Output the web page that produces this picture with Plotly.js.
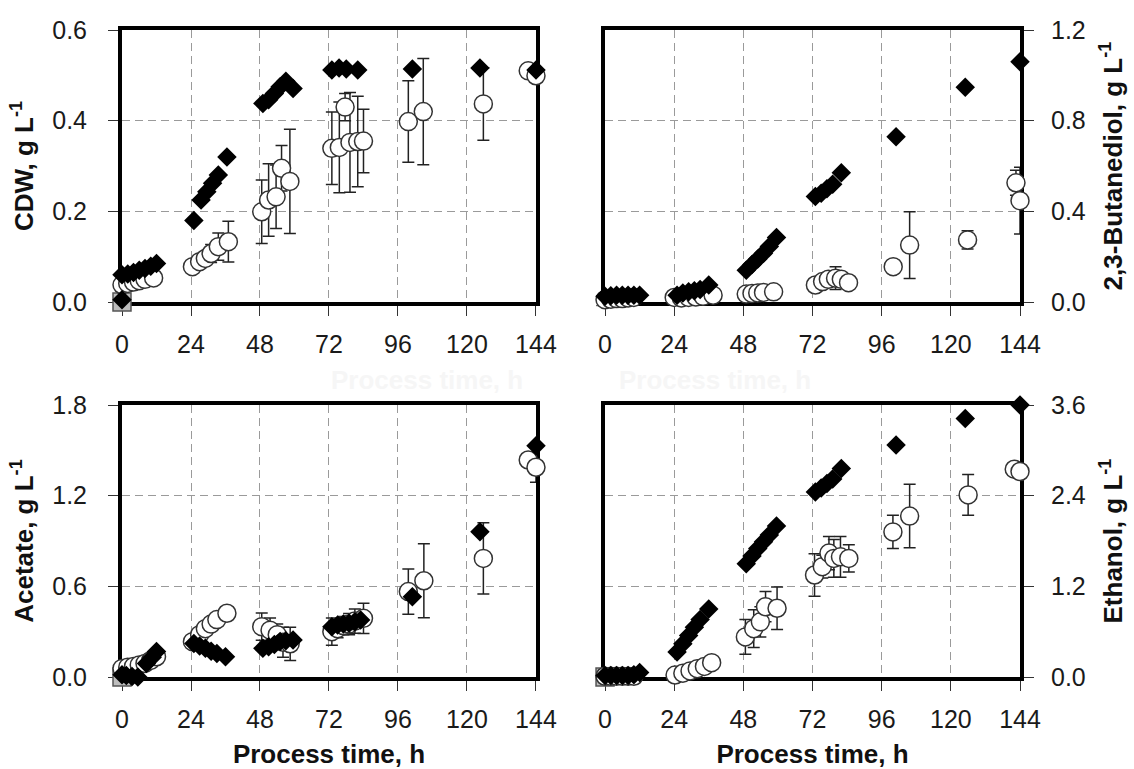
<!DOCTYPE html>
<html>
<head>
<meta charset="utf-8">
<script src="https://cdn.plot.ly/plotly-3.0.1.min.js"></script>
<style>html,body{margin:0;padding:0;background:#fff;}#chart{width:1134px;height:769px;}</style>
</head>
<body>
<div id="chart"></div>
<script>
// ---------- Data ----------
const timeTicks = [0, 24, 48, 72, 96, 120, 144];

// CDW (top-left)
const cdwDiaT = [0, 0, 2, 4, 6, 8, 10, 12, 25, 27.5, 29.5, 31.5, 33.5, 36.5, 49, 51, 53, 55, 57, 59.5, 73, 75.5, 78, 82, 101, 124.5, 144];
const cdwDiaV = [0.005, 0.06, 0.062, 0.065, 0.07, 0.074, 0.079, 0.085, 0.18, 0.225, 0.243, 0.262, 0.28, 0.32, 0.438, 0.446, 0.46, 0.475, 0.487, 0.471, 0.512, 0.516, 0.514, 0.512, 0.514, 0.516, 0.512];
const cdwCirT = [0, 2, 4, 6, 8, 11, 24.5, 27, 29, 31, 33.5, 37, 48.6, 51, 53.6, 55.5, 58.4, 73, 75.6, 77.6, 79.3, 82, 84, 99.6, 104.8, 125.7, 141.3, 144];
const cdwCirV = [0.038, 0.041, 0.044, 0.047, 0.05, 0.053, 0.078, 0.089, 0.096, 0.107, 0.122, 0.133, 0.199, 0.225, 0.232, 0.295, 0.266, 0.339, 0.341, 0.43, 0.352, 0.354, 0.355, 0.398, 0.42, 0.437, 0.51, 0.499];
const cdwCirE = [0, 0, 0, 0, 0, 0, 0.005, 0.008, 0.012, 0.02, 0.03, 0.045, 0.07, 0.08, 0.07, 0.05, 0.115, 0.08, 0.1, 0.03, 0.11, 0.1, 0.07, 0.09, 0.117, 0.08, 0, 0.01];
const cdwCtrlT = [0];
const cdwCtrlV = [0];

// 2,3-Butanediol (top-right)
const bdoDiaT = [0, 2, 4, 6, 8, 10, 12, 25, 27, 29, 31, 33, 36, 49, 51, 53, 55, 57, 59.5, 73, 75, 77, 79, 82, 101, 125, 144];
const bdoDiaV = [0.025, 0.028, 0.03, 0.03, 0.03, 0.03, 0.03, 0.03, 0.04, 0.045, 0.05, 0.055, 0.075, 0.14, 0.165, 0.19, 0.215, 0.245, 0.285, 0.465, 0.48, 0.5, 0.52, 0.57, 0.729, 0.947, 1.06];
const bdoCirT = [0, 2, 4, 6, 8, 10, 24, 26.5, 29, 31.5, 34, 37.5, 49, 51, 53, 55, 58.5, 73, 75.5, 77.5, 80, 82, 84.5, 100, 105.7, 125.8, 142.6, 144];
const bdoCirV = [0.01, 0.012, 0.015, 0.015, 0.018, 0.02, 0.02, 0.018, 0.02, 0.022, 0.025, 0.03, 0.035, 0.038, 0.04, 0.042, 0.045, 0.075, 0.09, 0.1, 0.105, 0.1, 0.085, 0.156, 0.251, 0.274, 0.526, 0.447];
const bdoCirE = [0, 0, 0, 0, 0, 0, 0, 0, 0, 0, 0, 0, 0, 0, 0, 0, 0, 0.01, 0.02, 0.03, 0.05, 0.03, 0.02, 0.03, 0.147, 0.04, 0.055, 0.147];
const bdoCtrlT = [0];
const bdoCtrlV = [0];

// Acetate (bottom-left)
const aceDiaT = [0, 1.5, 3.5, 5.5, 8.5, 10.5, 12, 25, 27, 29, 31, 33, 36, 49, 51, 53, 55, 57, 59.5, 73, 75, 77, 79, 81, 83, 101, 124.5, 144];
const aceDiaV = [0.015, 0.01, 0.003, 0.0, 0.09, 0.13, 0.168, 0.222, 0.205, 0.19, 0.17, 0.155, 0.134, 0.19, 0.2, 0.215, 0.235, 0.24, 0.245, 0.333, 0.344, 0.35, 0.355, 0.365, 0.377, 0.531, 0.962, 1.531];
const aceCirT = [0, 2, 4, 6, 8, 10, 12, 24.5, 27, 29, 31, 33, 36.5, 48.6, 51.5, 54, 56, 58.5, 73, 75, 77, 79, 81, 84, 99.6, 105, 125.7, 141.3, 144];
const aceCirV = [0.057, 0.065, 0.07, 0.08, 0.09, 0.11, 0.134, 0.234, 0.28, 0.32, 0.35, 0.38, 0.422, 0.333, 0.31, 0.28, 0.23, 0.22, 0.3, 0.32, 0.34, 0.35, 0.37, 0.388, 0.565, 0.637, 0.785, 1.436, 1.388];
const aceCirE = [0, 0, 0, 0, 0, 0, 0, 0, 0, 0, 0, 0, 0, 0.09, 0.08, 0.07, 0.1, 0.11, 0.09, 0.06, 0.06, 0.07, 0.08, 0.1, 0.15, 0.245, 0.235, 0, 0.1];
const aceCtrlT = [0];
const aceCtrlV = [0];

// Ethanol (bottom-right)
const ethDiaT = [0, 2, 4, 6, 8, 10, 12, 25, 27, 29, 31, 33, 36, 49, 51, 53, 55, 57, 59.5, 73, 75, 77, 79, 82, 101, 125, 144];
const ethDiaV = [0.02, 0.02, 0.02, 0.02, 0.02, 0.03, 0.06, 0.33, 0.44, 0.55, 0.66, 0.76, 0.9, 1.5, 1.6, 1.7, 1.79, 1.88, 2.0, 2.45, 2.5, 2.56, 2.62, 2.76, 3.07, 3.42, 3.6];
const ethCirT = [0, 2, 4, 6, 8, 10, 24.3, 27, 29.5, 32, 34.5, 37, 48.7, 51.6, 53.9, 55.7, 59.7, 72.7, 75.4, 77.7, 79.4, 81.7, 84.6, 99.9, 105.7, 126, 142, 144];
const ethCirV = [0.01, 0.01, 0.01, 0.01, 0.01, 0.01, 0.026, 0.05, 0.08, 0.11, 0.14, 0.19, 0.53, 0.64, 0.73, 0.93, 0.91, 1.35, 1.46, 1.64, 1.57, 1.59, 1.57, 1.92, 2.13, 2.41, 2.75, 2.72];
const ethCirE = [0, 0, 0, 0, 0, 0, 0, 0, 0, 0, 0, 0, 0.23, 0.25, 0.2, 0.2, 0.28, 0.28, 0.15, 0.22, 0.25, 0.27, 0.18, 0.22, 0.42, 0.27, 0, 0];
const ethCtrlT = [0];
const ethCtrlV = [0];

// ---------- Styling ----------
const FONT = 'Liberation Sans, Arial, Helvetica, sans-serif';
const circleMarker = {symbol: 'circle', size: 18, color: '#ffffff', line: {color: '#333333', width: 1.5}};
const diamondMarker = {symbol: 'diamond', size: 15, color: '#000000', line: {width: 0}};
const squareMarker = {symbol: 'square', size: 18, color: '#bdbdbd', line: {color: '#555555', width: 1.5}};
const triMarker = {symbol: 'triangle-up', size: 15, color: '#8c8c8c', line: {color: '#555555', width: 1}};
const errStyle = arr => ({type: 'data', array: arr, visible: true, color: '#222222', thickness: 1.5, width: 6});

function panel(xa, ya, ctrlT, ctrlV, ctrlMarker, cirT, cirV, cirE, diaT, diaV) {
  return [
    {type: 'scatter', mode: 'markers', x: ctrlT, y: ctrlV, xaxis: xa, yaxis: ya, marker: ctrlMarker, cliponaxis: false, hoverinfo: 'skip'},
    {type: 'scatter', mode: 'markers', x: cirT, y: cirV, xaxis: xa, yaxis: ya, marker: circleMarker, error_y: errStyle(cirE), cliponaxis: false},
    {type: 'scatter', mode: 'markers', x: diaT, y: diaV, xaxis: xa, yaxis: ya, marker: diamondMarker, cliponaxis: false}
  ];
}

const data = [].concat(
  panel('x', 'y', cdwCtrlT, cdwCtrlV, squareMarker, cdwCirT, cdwCirV, cdwCirE, cdwDiaT, cdwDiaV),
  panel('x2', 'y2', bdoCtrlT, bdoCtrlV, triMarker, bdoCirT, bdoCirV, bdoCirE, bdoDiaT, bdoDiaV),
  panel('x3', 'y3', aceCtrlT, aceCtrlV, squareMarker, aceCirT, aceCirV, aceCirE, aceDiaT, aceDiaV),
  panel('x4', 'y4', ethCtrlT, ethCtrlV, squareMarker, ethCirT, ethCirV, ethCirE, ethDiaT, ethDiaV)
);

const common = {
  showline: true, linewidth: 4, linecolor: '#000000', mirror: true,
  ticks: 'outside', ticklen: 10, tickwidth: 1, tickcolor: '#333333',
  showgrid: true, gridcolor: '#9a9a9a', gridwidth: 1, griddash: '8px,5px',
  zeroline: false, layer: 'below traces', automargin: false, fixedrange: true,
  tickfont: {family: FONT, size: 25, color: '#1a1a1a'}
};
const titleFont = {family: FONT, size: 26, color: '#111111', weight: 'bold'};

function xAxis(domain, anchor, withTitle) {
  const a = Object.assign({}, common, {
    domain: domain, anchor: anchor, range: [0, 144], tickvals: timeTicks, ticklabelstandoff: 7
  });
  if (withTitle) a.title = {text: 'Process time, h', font: titleFont, standoff: 19};
  return a;
}
function yAxis(domain, anchor, side, range, dtick, titleText) {
  return Object.assign({}, common, {
    domain: domain, anchor: anchor, side: side, range: range, dtick: dtick, tick0: 0,
    tickformat: '.1f', ticklabelstandoff: side === 'left' ? 16 : 12,
    title: {text: titleText, font: titleFont, standoff: side === 'left' ? 12 : 20}
  });
}

const xL = [0, 0.4610], xR = [0.5379, 1];
const yT = [0.5796, 1], yB = [0, 0.4204];

const layout = {
  width: 1134, height: 769, autosize: false,
  margin: {l: 122, r: 114, t: 30, b: 92, pad: 0},
  paper_bgcolor: '#ffffff', plot_bgcolor: '#ffffff',
  showlegend: false,
  font: {family: FONT, color: '#111111'},
  xaxis: xAxis(xL, 'y', false),
  xaxis2: xAxis(xR, 'y2', false),
  xaxis3: xAxis(xL, 'y3', true),
  xaxis4: xAxis(xR, 'y4', true),
  yaxis: yAxis(yT, 'x', 'left', [0, 0.6], 0.2, 'CDW, g L<sup>-1</sup>'),
  yaxis2: yAxis(yT, 'x2', 'right', [0, 1.2], 0.4, '2,3-Butanediol, g L<sup>-1</sup>'),
  yaxis3: yAxis(yB, 'x3', 'left', [0, 1.8], 0.6, 'Acetate, g L<sup>-1</sup>'),
  yaxis4: yAxis(yB, 'x4', 'right', [0, 3.6], 1.2, 'Ethanol, g L<sup>-1</sup>'),
  annotations: [
    {xref: 'paper', yref: 'paper', x: 0.2305, y: 0.459, showarrow: false, text: 'Process time, h',
     font: {family: FONT, size: 26, color: '#f6f6f6', weight: 'bold'}},
    {xref: 'paper', yref: 'paper', x: 0.769, y: 0.459, showarrow: false, text: 'Process time, h',
     font: {family: FONT, size: 26, color: '#f6f6f6', weight: 'bold'}}
  ]
};

Plotly.newPlot('chart', data, layout, {displayModeBar: false, staticPlot: true});
</script>
</body>
</html>
